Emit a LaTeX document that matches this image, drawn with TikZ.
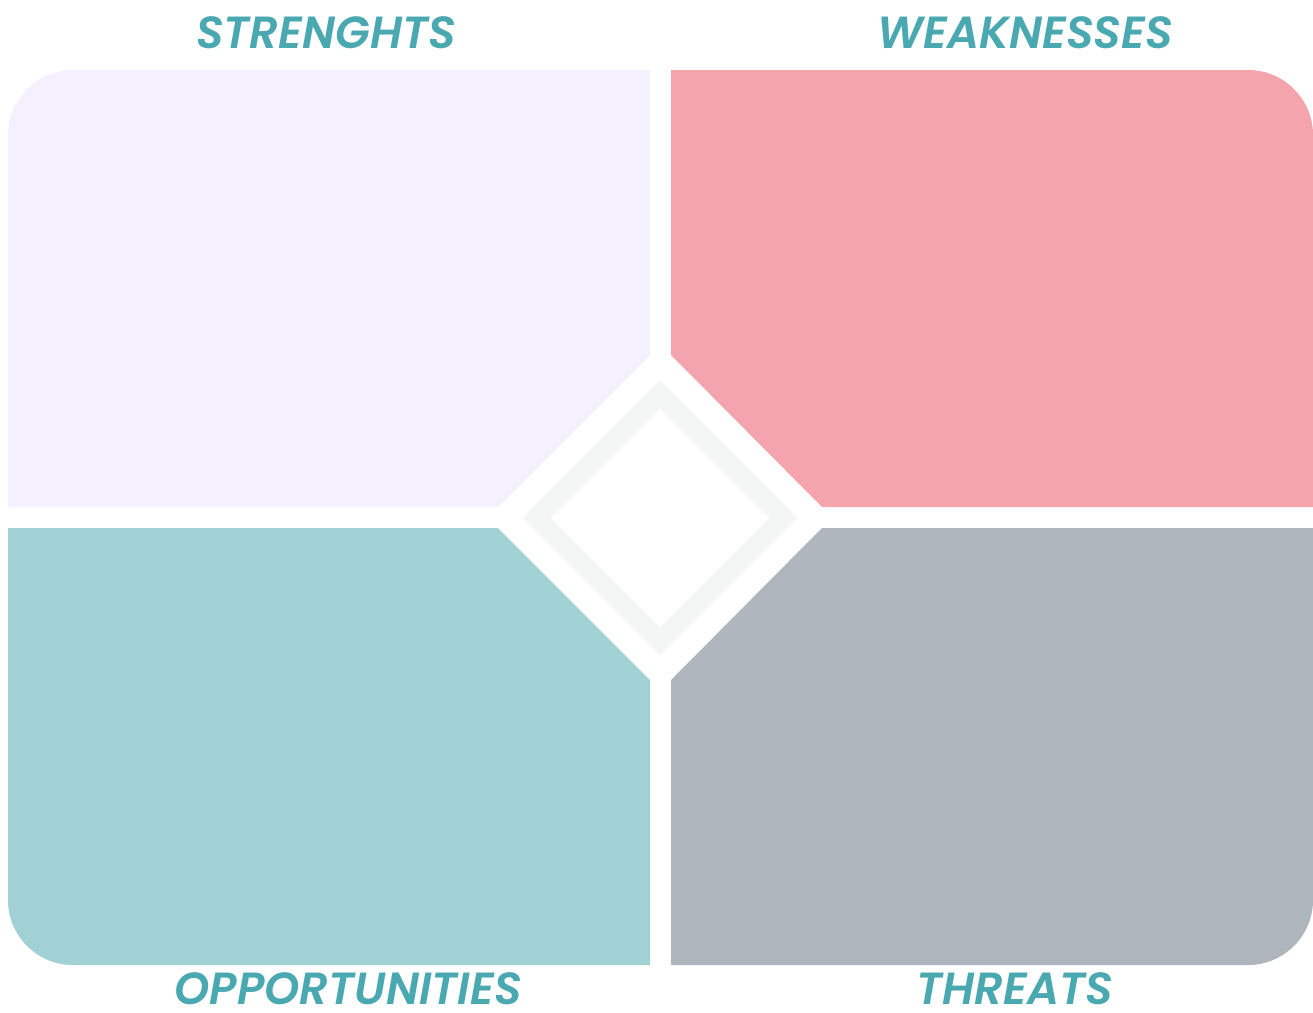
\documentclass[tikz,border=0pt]{standalone}
\usepackage{fontspec}
\setmainfont{Poppins}[BoldItalicFont={Poppins SemiBold Italic}]
\usepackage{xcolor}
\usepackage{tikz}
\usetikzlibrary{positioning,shapes.geometric}
\definecolor{swotlav}{RGB}{244,240,253}
\definecolor{swotpink}{RGB}{244,164,173}
\definecolor{swotteal}{RGB}{161,208,213}
\definecolor{swotgray}{RGB}{174,181,188}
\definecolor{ringgray}{RGB}{244,246,245}
\definecolor{labelteal}{RGB}{74,168,176}

\begin{document}
\begin{tikzpicture}[x=0.01cm, y=-0.01cm,
  swotlabel/.style={font=\fontsize{12.8}{14}\selectfont\bfseries\itshape, text=labelteal, anchor=base, inner sep=0pt}]
\useasboundingbox (0,0) rectangle (1313,1012);

% four quadrants, each cut at the middle
\fill[swotlav] (650,70) -- (650,355) -- (498,507) -- (8,507) [rounded corners=6.5mm] -- (8,70) [sharp corners] -- cycle;
\fill[swotpink] (671,355) -- (671,70) [rounded corners=6.5mm] -- (1313,70) [sharp corners] -- (1313,507) -- (822,507) -- cycle;
\fill[swotteal] (498,528) -- (650,680) -- (650,965) [rounded corners=6.5mm] -- (8,965) [sharp corners] -- (8,528) -- cycle;
\fill[swotgray] (822,528) -- (1313,528) [rounded corners=6.5mm] -- (1313,965) [sharp corners] -- (671,965) -- (671,680) -- cycle;

% centre diamond
\node[diamond, draw=ringgray, fill=white, line width=1.98mm, inner sep=0pt, minimum size=2.55cm] (core) at (660,518) {};

\node[swotlabel] (strengths) at (326,48) {STRENGHTS};
\node[swotlabel] (weaknesses) at (1025,48) {WEAKNESSES};
\node[swotlabel] (opportunities) at (348,1004) {OPPORTUNITIES};
\node[swotlabel] (threats) at (1015,1004) {THREATS};
\end{tikzpicture}
\end{document}
